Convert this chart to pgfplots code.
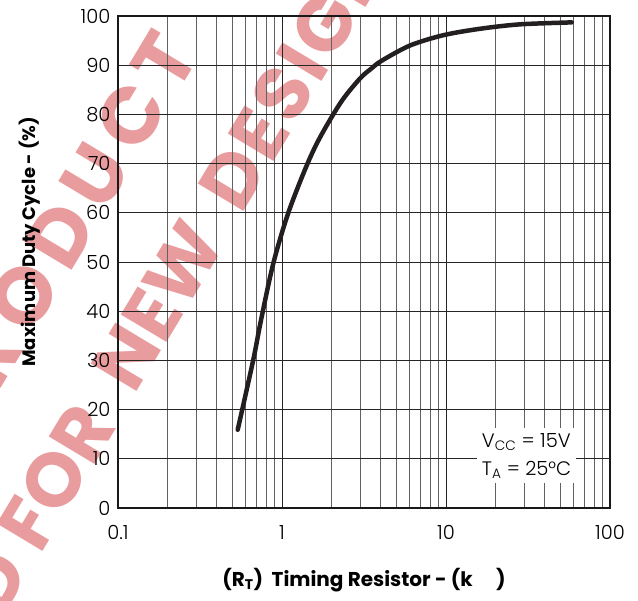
\documentclass[border=0pt]{standalone}
\usepackage{fontspec}
\setmainfont{Poppins}
\IfFontExistsTF{Poppins Light}{\newfontfamily\lightfont{Poppins Light}}{\newfontfamily\lightfont{Poppins}}
\usepackage{pgfplots}
\pgfplotsset{compat=1.18}
\definecolor{wm}{RGB}{233,156,158}
\definecolor{curve}{RGB}{35,31,32}
\begin{document}
\begin{tikzpicture}
% watermark behind the grid
\begin{scope}[every node/.style={text=wm,font=\fontsize{76}{76}\selectfont\bfseries,inner sep=0pt,rotate=59}]
\node[anchor=east] at (-187pt,58pt) {OBSOLETE};
\node[anchor=center, font=\fontsize{80}{80}\selectfont\bfseries] at (-58pt,273pt) {\addfontfeatures{LetterSpace=14}PRODUCT};
\node[anchor=east] at (-110pt,-49pt) {NOT RECOMMENDED};
\node[anchor=west] at (-101pt,-34pt) {FOR};
\node[anchor=west] at (-6pt,126pt) {NEW};
\node[anchor=west] at (100pt,306pt) {\addfontfeatures{LetterSpace=4}DESIGN};
\end{scope}
\begin{axis}[
    scale only axis,
    width=492pt, height=492pt,
    xmode=log,
    xmin=0.1, xmax=100,
    ymin=0, ymax=100,
    xtick={0.1,1,10,100},
    xticklabels={0.1,1,10,100},
    ytick={0,10,...,100},
    xmajorgrids=true, xminorgrids=true, ymajorgrids=true,
    major grid style={black!85, line width=0.8pt},
    minor grid style={black!62, line width=0.8pt},
    axis line style={black!90, line width=2.2pt},
    tick style={draw=none},
    /pgf/number format/assume math mode=true,
    tick label style={font=\lightfont\fontsize{19.5}{19.5}\selectfont},
    xticklabel style={yshift=-14pt},
    yticklabel style={xshift=-4pt},
    xlabel={\textbf{(R\textsubscript{T})\ \ Timing Resistor - (k\quad\,)}},
    ylabel={\textbf{Maximum Duty Cycle - (\%)}},
    xlabel style={font=\fontsize{20}{20}\selectfont, at={(axis description cs:0.5,-0.146)}, anchor=center},
    ylabel style={font=\fontsize{18}{18}\selectfont, at={(axis description cs:-0.179,0.541)}, anchor=center},
]
\addplot[color=curve, line width=4.5pt, smooth, line cap=round] coordinates {
    (0.537,15.9)(0.667,30)(0.745,38.2)(0.885,49.7)(1.09,59.9)
    (1.41,69.5)(1.71,75.4)(2.3,82.6)(2.99,87.3)(3.5,89.3)(4.05,90.9)(6.03,94.0)
    (9.64,96.1)(16.1,97.4)(28.2,98.3)(58.4,98.7)
};
\node[fill=white, align=left, inner sep=5pt, font=\lightfont\fontsize{19.5}{28}\selectfont]
    at (axis cs:31,10.6) {V\textsubscript{CC} = 15V\\T\textsubscript{A} = 25°C};
\end{axis}
\pgfresetboundingbox
\useasboundingbox (-118pt,-93pt) rectangle (520pt,508pt);
\end{tikzpicture}
\end{document}
